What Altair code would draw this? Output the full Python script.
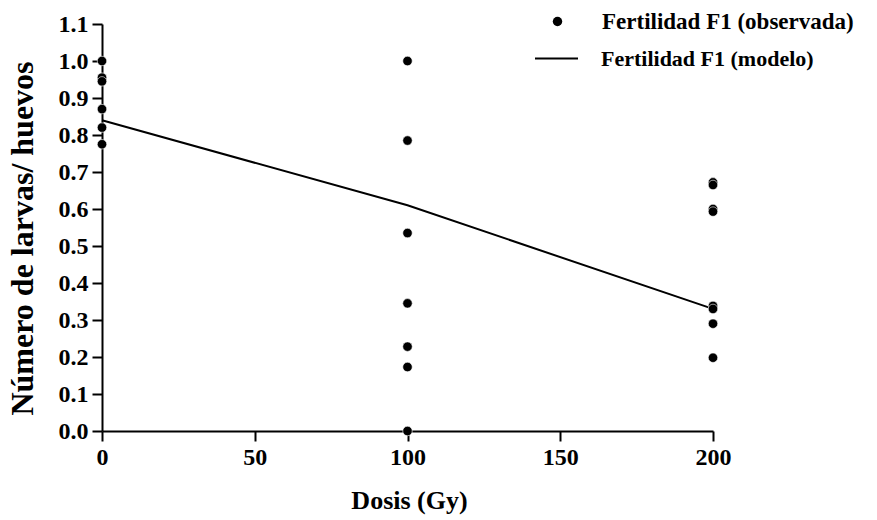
import altair as alt
import pandas as pd

# Observed data
dose_obs = [0, 0, 0, 0, 0, 0,
            100, 100, 100, 100, 100, 100, 100,
            200, 200, 200, 200, 200, 200, 200, 200]
fert_obs = [1.0, 0.955, 0.945, 0.87, 0.82, 0.775,
            1.0, 0.785, 0.535, 0.345, 0.228, 0.173, 0.0,
            0.672, 0.665, 0.600, 0.593, 0.338, 0.330, 0.290, 0.198]

# Model
dose_model = [0, 100, 200]
fert_model = [0.84, 0.61, 0.33]

x_ticks = [0, 50, 100, 150, 200]
y_ticks = [0.0, 0.1, 0.2, 0.3, 0.4, 0.5, 0.6, 0.7, 0.8, 0.9, 1.0, 1.1]

lab_obs = "Fertilidad F1 (observada)"
lab_mod = "Fertilidad F1 (modelo)"

df_obs = pd.DataFrame({"dose": dose_obs, "fert": fert_obs, "serie": lab_obs})
df_mod = pd.DataFrame({"dose": dose_model, "fert": fert_model, "serie": lab_mod})

FONT = "Liberation Serif"

xs = alt.Scale(domain=[0, 200], nice=False, zero=False)
ys = alt.Scale(domain=[0, 1.1], nice=False)

x_axis = alt.Axis(values=x_ticks, title="Dosis (Gy)", titleX=307, titleY=77,
                  titleBaseline="alphabetic", titleAnchor="middle", titleFontSize=26,
                  labelFlush=False)
y_axis = alt.Axis(values=y_ticks, format=".1f", title="Número de larvas/ huevos",
                  titleX=-70, titleY=214, titleBaseline="alphabetic", titleAngle=270,
                  titleAlign="center", titleFontSize=32, labelFlush=False)

line = alt.Chart(df_mod).mark_line(strokeWidth=2).encode(
    x=alt.X("dose:Q", scale=xs, axis=x_axis),
    y=alt.Y("fert:Q", scale=ys, axis=y_axis),
    color=alt.Color("serie:N", scale=alt.Scale(domain=[lab_mod], range=["black"]),
                    legend=alt.Legend(title=None, orient="none", legendX=432, legendY=12,
                                      symbolType="stroke", symbolSize=1849,
                                      symbolStrokeWidth=2, labelOffset=22, padding=0,
                                      labelFontSize=22)),
)

points = alt.Chart(df_obs).mark_point(filled=True, size=90, opacity=1,
                                      stroke="white", strokeWidth=0.6).encode(
    x=alt.X("dose:Q", scale=xs, axis=x_axis),
    y=alt.Y("fert:Q", scale=ys, axis=y_axis),
    shape=alt.Shape("serie:N", scale=alt.Scale(domain=[lab_obs], range=["circle"]),
                    legend=alt.Legend(title=None, orient="none", legendX=444, legendY=-14,
                                      symbolSize=90, symbolFillColor="black",
                                      symbolStrokeColor="white", symbolStrokeWidth=0.6,
                                      symbolOpacity=1,
                                      labelOffset=33, padding=0, labelFontSize=23)),
    color=alt.value("black"),
)

chart = alt.layer(line, points).resolve_scale(color="independent", shape="independent").properties(
    width=611, height=407,
    background="white",
    autosize=alt.AutoSizeParams(type="none"),
    padding={"left": 102, "top": 24, "right": 164, "bottom": 89},
).configure_view(stroke=None).configure_axis(
    domainColor="black", domainWidth=2, tickColor="black", tickWidth=2, tickSize=10,
    grid=False, labelFont=FONT, labelFontWeight="bold", labelFontSize=24, labelColor="black",
    titleFont=FONT, titleFontWeight="bold", titleColor="black",
    labelPadding=4,
).configure_legend(
    labelFont=FONT, labelFontWeight="bold", labelColor="black",
    labelLimit=0,
)

chart.save("out.html", embed_options={"renderer": "svg", "actions": False})
